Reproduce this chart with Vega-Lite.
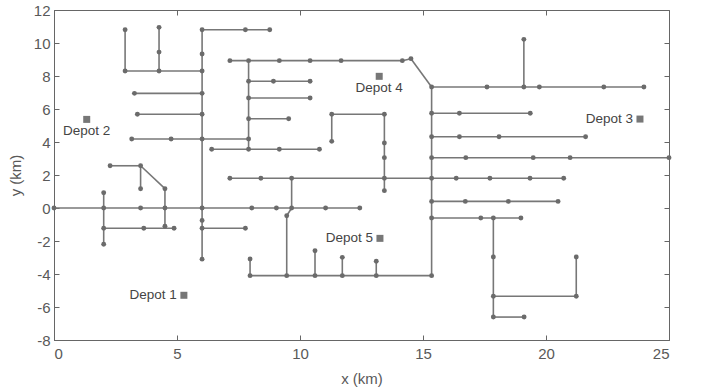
{
  "$schema": "https://vega.github.io/schema/vega-lite/v6.json",
  "width": 615,
  "height": 330,
  "autosize": {"type": "none"},
  "padding": {"left": 54, "top": 10, "right": 37, "bottom": 51},
  "background": "white",
  "datasets": {
    "segments": [
      {"x1": 2.89, "y1": 10.8, "x2": 2.89, "y2": 8.3},
      {"x1": 4.27, "y1": 10.95, "x2": 4.27, "y2": 8.3},
      {"x1": 2.89, "y1": 8.3, "x2": 6.02, "y2": 8.3},
      {"x1": 6.02, "y1": 10.8, "x2": 6.02, "y2": -3.1},
      {"x1": 6.02, "y1": 10.8, "x2": 8.77, "y2": 10.8},
      {"x1": 3.27, "y1": 6.95, "x2": 6.02, "y2": 6.95},
      {"x1": 3.39, "y1": 5.68, "x2": 6.02, "y2": 5.68},
      {"x1": 3.16, "y1": 4.18, "x2": 7.91, "y2": 4.18},
      {"x1": 6.41, "y1": 3.56, "x2": 10.79, "y2": 3.56},
      {"x1": 7.91, "y1": 8.93, "x2": 7.91, "y2": 3.56},
      {"x1": 7.15, "y1": 8.93, "x2": 14.16, "y2": 8.93},
      {"x1": 14.16, "y1": 8.93, "x2": 14.51, "y2": 9.05},
      {"x1": 14.51, "y1": 9.05, "x2": 15.35, "y2": 7.33},
      {"x1": 7.91, "y1": 7.68, "x2": 10.41, "y2": 7.68},
      {"x1": 7.91, "y1": 6.67, "x2": 10.41, "y2": 6.67},
      {"x1": 7.91, "y1": 5.41, "x2": 9.54, "y2": 5.41},
      {"x1": 2.28, "y1": 2.56, "x2": 3.52, "y2": 2.56},
      {"x1": 3.52, "y1": 2.56, "x2": 4.51, "y2": 1.17},
      {"x1": 3.52, "y1": 2.56, "x2": 3.52, "y2": 1.17},
      {"x1": 4.51, "y1": 1.17, "x2": 4.51, "y2": -1.1},
      {"x1": 2.02, "y1": 0.92, "x2": 2.02, "y2": -2.2},
      {"x1": 0, "y1": 0, "x2": 12.43, "y2": 0},
      {"x1": 2.02, "y1": -1.23, "x2": 4.88, "y2": -1.23},
      {"x1": 6.02, "y1": -1.23, "x2": 7.78, "y2": -1.23},
      {"x1": 11.29, "y1": 5.68, "x2": 13.43, "y2": 5.68},
      {"x1": 11.29, "y1": 5.68, "x2": 11.29, "y2": 4.04},
      {"x1": 13.43, "y1": 5.68, "x2": 13.43, "y2": 1.05},
      {"x1": 7.15, "y1": 1.8, "x2": 20.72, "y2": 1.8},
      {"x1": 9.66, "y1": 1.8, "x2": 9.66, "y2": 0},
      {"x1": 9.66, "y1": 0, "x2": 9.46, "y2": -0.47},
      {"x1": 9.46, "y1": -0.47, "x2": 9.46, "y2": -4.1},
      {"x1": 7.97, "y1": -4.1, "x2": 15.35, "y2": -4.1},
      {"x1": 7.97, "y1": -4.1, "x2": 7.97, "y2": -3.09},
      {"x1": 10.61, "y1": -4.1, "x2": 10.61, "y2": -2.59},
      {"x1": 11.72, "y1": -4.1, "x2": 11.72, "y2": -2.99},
      {"x1": 13.1, "y1": -4.1, "x2": 13.1, "y2": -3.23},
      {"x1": 15.35, "y1": 7.33, "x2": 15.35, "y2": -4.1},
      {"x1": 15.35, "y1": 7.33, "x2": 23.98, "y2": 7.33},
      {"x1": 19.1, "y1": 7.33, "x2": 19.1, "y2": 10.22},
      {"x1": 15.35, "y1": 5.74, "x2": 19.36, "y2": 5.74},
      {"x1": 15.35, "y1": 4.32, "x2": 21.61, "y2": 4.32},
      {"x1": 15.35, "y1": 3.05, "x2": 25, "y2": 3.05},
      {"x1": 15.35, "y1": 0.4, "x2": 20.49, "y2": 0.4},
      {"x1": 15.35, "y1": -0.61, "x2": 18.98, "y2": -0.61},
      {"x1": 17.86, "y1": -0.61, "x2": 17.86, "y2": -6.61},
      {"x1": 17.86, "y1": -5.35, "x2": 21.23, "y2": -5.35},
      {"x1": 21.23, "y1": -5.35, "x2": 21.23, "y2": -2.97},
      {"x1": 17.86, "y1": -6.61, "x2": 19.11, "y2": -6.61}
    ],
    "nodes": [
      {"x": 2.89, "y": 10.8}, {"x": 2.89, "y": 8.3}, {"x": 4.27, "y": 10.95}, {"x": 4.27, "y": 9.45}, {"x": 4.27, "y": 8.3},
      {"x": 6.02, "y": 10.8}, {"x": 6.02, "y": 9.33}, {"x": 6.02, "y": 8.3}, {"x": 6.02, "y": 6.95}, {"x": 6.02, "y": 5.68},
      {"x": 6.02, "y": 4.18}, {"x": 6.02, "y": 0}, {"x": 6.02, "y": -0.75}, {"x": 6.02, "y": -1.23}, {"x": 6.02, "y": -3.1},
      {"x": 7.78, "y": 10.8}, {"x": 8.77, "y": 10.8},
      {"x": 3.27, "y": 6.95}, {"x": 3.39, "y": 5.68}, {"x": 3.16, "y": 4.18}, {"x": 4.76, "y": 4.18}, {"x": 7.91, "y": 4.18},
      {"x": 6.41, "y": 3.56}, {"x": 7.91, "y": 3.56}, {"x": 9.16, "y": 3.56}, {"x": 10.79, "y": 3.56},
      {"x": 7.15, "y": 8.93}, {"x": 7.91, "y": 8.93}, {"x": 9.16, "y": 8.93}, {"x": 10.41, "y": 8.93}, {"x": 11.67, "y": 8.93}, {"x": 14.16, "y": 8.93}, {"x": 14.51, "y": 9.05},
      {"x": 7.91, "y": 7.68}, {"x": 8.92, "y": 7.68}, {"x": 10.41, "y": 7.68}, {"x": 7.91, "y": 6.67}, {"x": 10.41, "y": 6.67}, {"x": 7.91, "y": 5.41}, {"x": 9.54, "y": 5.41},
      {"x": 2.28, "y": 2.56}, {"x": 3.52, "y": 2.56}, {"x": 3.52, "y": 1.17}, {"x": 4.51, "y": 1.17},
      {"x": 2.02, "y": 0.92}, {"x": 2.02, "y": 0}, {"x": 2.02, "y": -1.23}, {"x": 2.02, "y": -2.2},
      {"x": 0, "y": 0}, {"x": 3.52, "y": 0}, {"x": 4.51, "y": 0}, {"x": 8.04, "y": 0}, {"x": 9.04, "y": 0}, {"x": 9.66, "y": 0}, {"x": 11.04, "y": 0}, {"x": 12.43, "y": 0},
      {"x": 3.65, "y": -1.23}, {"x": 4.51, "y": -1.1}, {"x": 4.88, "y": -1.23}, {"x": 7.78, "y": -1.23},
      {"x": 11.29, "y": 5.68}, {"x": 13.43, "y": 5.68}, {"x": 11.29, "y": 4.04}, {"x": 13.43, "y": 3.94}, {"x": 13.43, "y": 3.05}, {"x": 13.43, "y": 1.8}, {"x": 13.43, "y": 1.05},
      {"x": 7.15, "y": 1.8}, {"x": 8.41, "y": 1.8}, {"x": 9.66, "y": 1.8}, {"x": 15.35, "y": 1.8}, {"x": 16.35, "y": 1.8}, {"x": 17.72, "y": 1.8}, {"x": 19.35, "y": 1.8}, {"x": 20.72, "y": 1.8},
      {"x": 9.46, "y": -0.47}, {"x": 9.46, "y": -4.1}, {"x": 7.97, "y": -4.1}, {"x": 10.61, "y": -4.1}, {"x": 11.72, "y": -4.1}, {"x": 13.1, "y": -4.1}, {"x": 15.35, "y": -4.1},
      {"x": 7.97, "y": -3.09}, {"x": 10.61, "y": -2.59}, {"x": 11.72, "y": -2.99}, {"x": 13.1, "y": -3.23},
      {"x": 15.35, "y": 7.33}, {"x": 17.6, "y": 7.33}, {"x": 19.1, "y": 7.33}, {"x": 19.73, "y": 7.33}, {"x": 22.35, "y": 7.33}, {"x": 23.98, "y": 7.33}, {"x": 19.1, "y": 10.22},
      {"x": 15.35, "y": 5.74}, {"x": 16.48, "y": 5.74}, {"x": 19.36, "y": 5.74},
      {"x": 15.35, "y": 4.32}, {"x": 16.48, "y": 4.32}, {"x": 18.09, "y": 4.32}, {"x": 21.61, "y": 4.32},
      {"x": 15.35, "y": 3.05}, {"x": 16.74, "y": 3.05}, {"x": 19.48, "y": 3.05}, {"x": 20.98, "y": 3.05}, {"x": 25, "y": 3.05},
      {"x": 15.35, "y": 0.4}, {"x": 16.72, "y": 0.4}, {"x": 18.47, "y": 0.4}, {"x": 20.49, "y": 0.4},
      {"x": 15.35, "y": -0.61}, {"x": 17.35, "y": -0.61}, {"x": 17.86, "y": -0.61}, {"x": 18.98, "y": -0.61},
      {"x": 17.86, "y": -2.97}, {"x": 17.86, "y": -5.35}, {"x": 17.86, "y": -6.61}, {"x": 21.23, "y": -5.35}, {"x": 21.23, "y": -2.97}, {"x": 19.11, "y": -6.61}
    ],
    "depots": [
      {"name": "Depot 1", "x": 5.28, "y": -5.29, "side": "left"},
      {"name": "Depot 2", "x": 1.33, "y": 5.37, "side": "below"},
      {"name": "Depot 3", "x": 23.82, "y": 5.39, "side": "left"},
      {"name": "Depot 4", "x": 13.22, "y": 7.98, "side": "below"},
      {"name": "Depot 5", "x": 13.25, "y": -1.84, "side": "left"}
    ]
  },
  "layer": [
    {
      "data": {"name": "segments"},
      "mark": {"type": "rule", "color": "#777777", "strokeWidth": 1.6},
      "encoding": {
        "x": {"field": "x1", "type": "quantitative", "scale": {"domain": [0, 25], "nice": false, "zero": false}, "axis": {"title": "x (km)", "values": [0, 5, 10, 15, 20, 25], "labelExpr": "toString(datum.value)", "labelPadding": 11, "titlePadding": 10}},
        "y": {"field": "y1", "type": "quantitative", "scale": {"domain": [-8, 12], "nice": false, "zero": false}, "axis": {"title": "y (km)", "values": [-8, -6, -4, -2, 0, 2, 4, 6, 8, 10, 12], "labelExpr": "toString(datum.value)", "labelPadding": 9, "titlePadding": 10}},
        "x2": {"field": "x2"},
        "y2": {"field": "y2"}
      }
    },
    {
      "data": {"name": "nodes"},
      "mark": {"type": "point", "filled": true, "color": "#6b6b6b", "opacity": 1, "size": 24},
      "encoding": {
        "x": {"field": "x", "type": "quantitative", "axis": {"orient": "top", "labels": false, "title": null, "domain": false, "values": [0, 5, 10, 15, 20, 25]}},
        "y": {"field": "y", "type": "quantitative", "axis": {"orient": "right", "labels": false, "title": null, "domain": false, "values": [-8, -6, -4, -2, 0, 2, 4, 6, 8, 10, 12]}}
      }
    },
    {
      "data": {"name": "depots"},
      "mark": {"type": "square", "filled": true, "color": "#777777", "opacity": 1, "size": 49},
      "encoding": {
        "x": {"field": "x", "type": "quantitative", "axis": null},
        "y": {"field": "y", "type": "quantitative", "axis": null}
      }
    },
    {
      "data": {"name": "depots"},
      "transform": [{"filter": "datum.side === 'left'"}],
      "mark": {"type": "text", "align": "right", "baseline": "middle", "dx": -7, "font": "Liberation Sans", "fontSize": 13.5, "color": "#444444"},
      "encoding": {
        "x": {"field": "x", "type": "quantitative", "axis": null},
        "y": {"field": "y", "type": "quantitative", "axis": null},
        "text": {"field": "name"}
      }
    },
    {
      "data": {"name": "depots"},
      "transform": [{"filter": "datum.side === 'below'"}],
      "mark": {"type": "text", "align": "center", "baseline": "middle", "dy": 12, "font": "Liberation Sans", "fontSize": 13.5, "color": "#444444"},
      "encoding": {
        "x": {"field": "x", "type": "quantitative", "axis": null},
        "y": {"field": "y", "type": "quantitative", "axis": null},
        "text": {"field": "name"}
      }
    }
  ],
  "resolve": {"axis": {"x": "independent", "y": "independent"}},
  "config": {
    "view": {"stroke": "#666666", "strokeWidth": 1},
    "axis": {
      "grid": false,
      "domainColor": "#666666",
      "tickColor": "#666666",
      "tickSize": -5,
      "labelColor": "#595959",
      "labelFont": "Liberation Sans",
      "labelFontSize": 15,
      "titleFont": "Liberation Sans",
      "titleFontSize": 15,
      "titleFontWeight": "normal",
      "titleColor": "#595959"
    }
  }
}
